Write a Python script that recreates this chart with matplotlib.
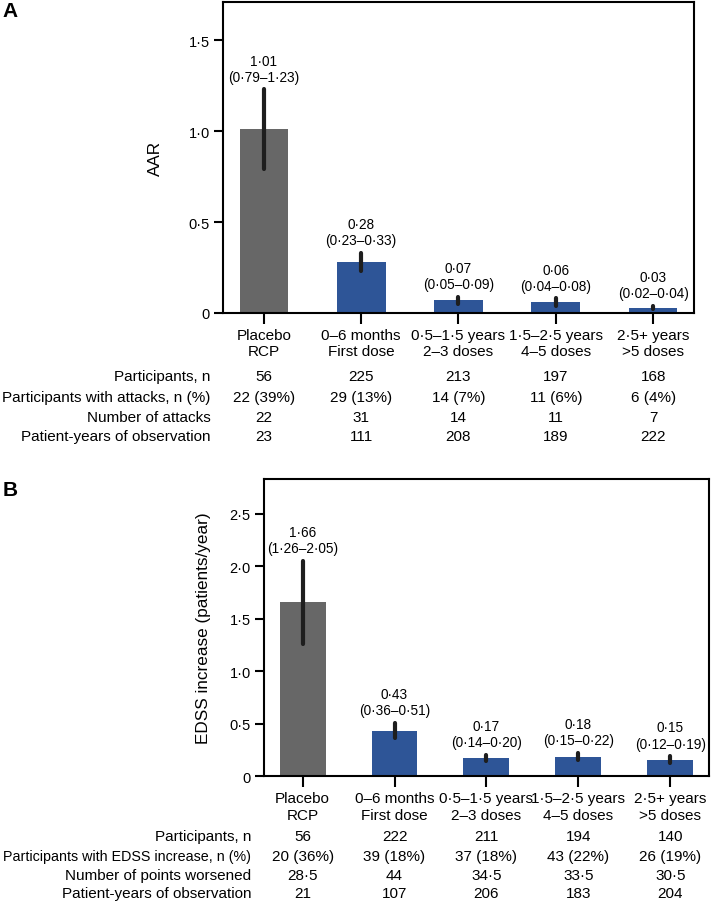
import numpy as np
import matplotlib.pyplot as plt

plt.rcParams['font.family'] = ['Liberation Sans', 'DejaVu Sans']

groups = ['Placebo\nRCP', '0–6 months\nFirst dose', '0·5–1·5 years\n2–3 doses',
          '1·5–2·5 years\n4–5 doses', '2·5+ years\n>5 doses']
bar_colors = ['#676767', '#2E5597', '#2E5597', '#2E5597', '#2E5597']

# Panel A: annualised attack rate
aar = [1.01, 0.28, 0.07, 0.06, 0.03]
aar_lo = [0.79, 0.23, 0.05, 0.04, 0.02]
aar_hi = [1.23, 0.33, 0.09, 0.08, 0.04]
a_row_names = ['Participants, n', 'Participants with attacks, n (%)',
               'Number of attacks', 'Patient-years of observation']
a_participants = ['56', '225', '213', '197', '168']
a_with_attacks = ['22 (39%)', '29 (13%)', '14 (7%)', '11 (6%)', '6 (4%)']
a_attacks = ['22', '31', '14', '11', '7']
a_pyears = ['23', '111', '208', '189', '222']

# Panel B: EDSS increase
edss = [1.66, 0.43, 0.17, 0.18, 0.15]
edss_lo = [1.26, 0.36, 0.14, 0.15, 0.12]
edss_hi = [2.05, 0.51, 0.20, 0.22, 0.19]
b_row_names = ['Participants, n', 'Participants with EDSS increase, n (%)',
               'Number of points worsened', 'Patient-years of observation']
b_participants = ['56', '222', '211', '194', '140']
b_with_increase = ['20 (36%)', '39 (18%)', '37 (18%)', '43 (22%)', '26 (19%)']
b_points = ['28·5', '44', '34·5', '33·5', '30·5']
b_pyears = ['21', '107', '206', '183', '204']


def dot(s):
    return s.replace('.', '·')


def panel(ax, vals, lo, hi, ymax, yticks, ylabel, row_names, rows, row_offsets, label_x):
    x = np.arange(len(vals))
    vals = np.array(vals)
    lo = np.array(lo)
    hi = np.array(hi)
    ax.bar(x, vals, width=0.5, color=bar_colors, zorder=2)
    eb = ax.errorbar(x, vals, yerr=[vals - lo, hi - vals], fmt='none',
                     ecolor='#1e1e1e', elinewidth=3, capsize=0, zorder=3)
    for c in eb[2]:
        c.set_capstyle('round')
    for i in range(len(vals)):
        txt = dot(f"{vals[i]:.2f}") + "\n(" + dot(f"{lo[i]:.2f}") + "–" + dot(f"{hi[i]:.2f}") + ")"
        ax.annotate(txt, xy=(x[i], hi[i]), xytext=(0, 4), textcoords='offset points',
                    ha='center', va='bottom', fontsize=9.8, linespacing=1.2)
    ax.set_xlim(-0.42, len(vals) - 0.58)
    ax.set_ylim(0, ymax)
    ax.set_yticks(yticks)
    ax.set_yticklabels(['0' if t == 0 else dot(f"{t:.1f}") for t in yticks])
    ax.set_xticks(x)
    ax.set_xticklabels(groups)
    ax.tick_params(axis='y', length=6.5, width=1.5, labelsize=10.5, pad=3)
    ax.tick_params(axis='x', length=8, width=1.5, labelsize=11, pad=3)
    for s in ax.spines.values():
        s.set_linewidth(1.5)
    ax.set_ylabel(ylabel, fontsize=12.3)
    ax.yaxis.set_label_coords(label_x, 0.5)

    for r in range(len(row_names)):
        # long row names are squeezed a little so they stay inside the figure
        fs = 11 if len(row_names[r]) < 34 else 10.3
        ax.annotate(row_names[r], xy=(0, 0), xycoords='axes fraction',
                    xytext=(-9, -row_offsets[r]), textcoords='offset points',
                    ha='right', va='center', fontsize=fs)
        for i in range(len(vals)):
            ax.annotate(rows[r][i], xy=(x[i], 0), xycoords=('data', 'axes fraction'),
                        xytext=(0, -row_offsets[r]), textcoords='offset points',
                        ha='center', va='center', fontsize=11)


fig = plt.figure(figsize=(7.14, 9.03), dpi=100)

axA = fig.add_axes([0.3123, 0.6523, 0.6597, 0.3444])
panel(axA, aar, aar_lo, aar_hi, 1.71, [0, 0.5, 1.0, 1.5], 'AAR', a_row_names,
      [a_participants, a_with_attacks, a_attacks, a_pyears], [45.4, 60.5, 74.9, 88.6], -0.128)

axB = fig.add_axes([0.3697, 0.1395, 0.6232, 0.3289])
panel(axB, edss, edss_lo, edss_hi, 2.83, [0, 0.5, 1.0, 1.5, 2.0, 2.5],
      'EDSS increase (patients/year)', b_row_names,
      [b_participants, b_with_increase, b_points, b_pyears], [43.2, 57.6, 71.3, 84.2], -0.118)

fig.text(0.004, 0.987, 'A', fontsize=15, fontweight='bold', va='center', ha='left')
fig.text(0.004, 0.457, 'B', fontsize=15, fontweight='bold', va='center', ha='left')

fig.savefig('out.png', dpi=100)
